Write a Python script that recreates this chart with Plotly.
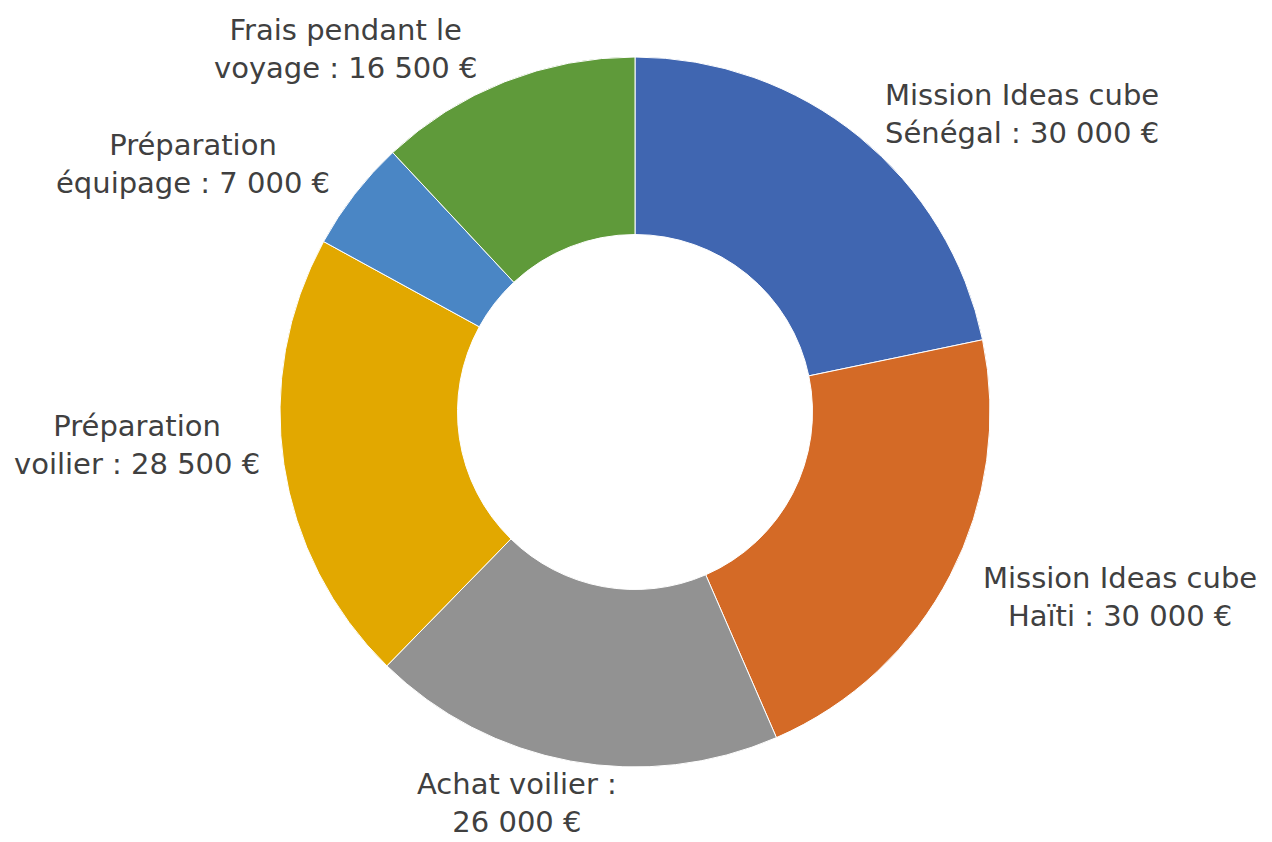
import plotly.graph_objects as go

values = [30000, 30000, 26000, 28500, 7000, 16500]
colors = ["#4066B1", "#D46A26", "#929292", "#E2A800", "#4A86C5", "#5F9A3A"]
label_texts = [
    "Mission Ideas cube<br>Sénégal : 30 000 €",
    "Mission Ideas cube<br>Haïti : 30 000 €",
    "Achat voilier :<br>26 000 €",
    "Préparation<br>voilier : 28 500 €",
    "Préparation<br>équipage : 7 000 €",
    "Frais pendant le<br>voyage : 16 500 €",
]
# label centres in pixels (x, y from top)
label_pos = [(1022, 114), (1120, 597), (517, 803), (137, 445), (193, 164), (345, 49)]

W, H = 1272, 842
cx, cy, r = 635, 412, 355

fig = go.Figure(go.Pie(
    labels=label_texts,
    values=values,
    hole=0.5,
    sort=False,
    direction="clockwise",
    rotation=0,
    marker=dict(colors=colors, line=dict(color="white", width=1)),
    textinfo="none",
    hoverinfo="label+value",
    showlegend=False,
    domain=dict(x=[(cx - r) / W, (cx + r) / W], y=[(H - cy - r) / H, (H - cy + r) / H]),
))

for txt, (px, py) in zip(label_texts, label_pos):
    fig.add_annotation(
        x=px / W, y=1 - py / H, xref="paper", yref="paper",
        text=txt, showarrow=False, xanchor="center", yanchor="middle",
        font=dict(family="DejaVu Sans", size=29, color="#404040"),
    )

fig.update_layout(
    width=W, height=H,
    margin=dict(l=0, r=0, t=0, b=0),
    paper_bgcolor="white",
    plot_bgcolor="white",
)
fig.write_html("out.html", config={"displayModeBar": False},
               post_script="document.body.style.margin='0';")
